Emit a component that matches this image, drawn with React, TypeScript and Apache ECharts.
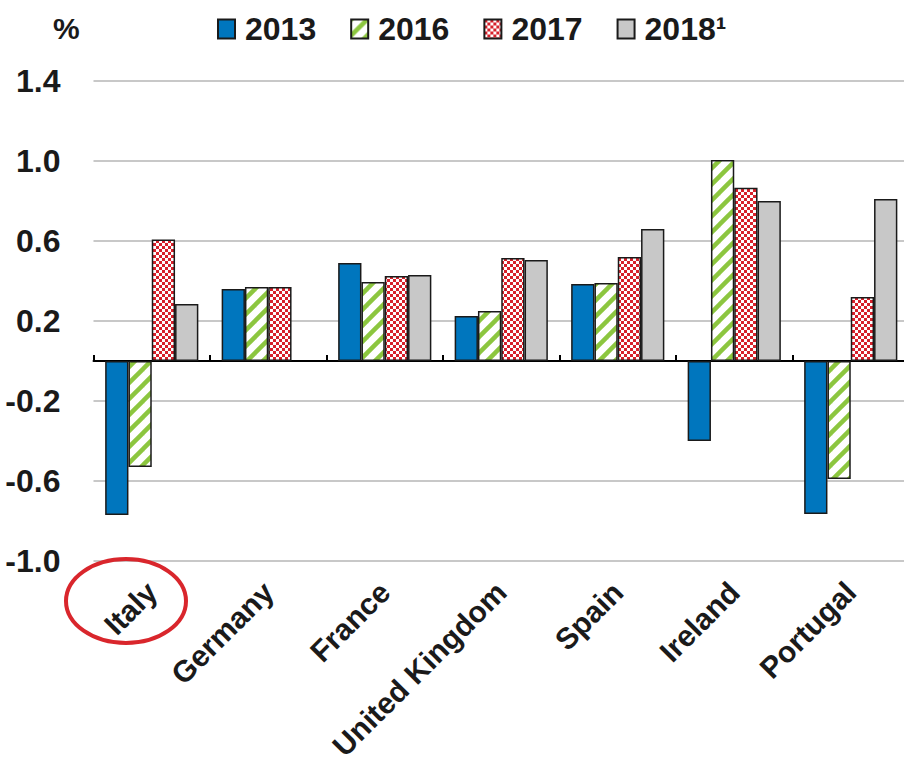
import React, { useEffect, useRef } from "react";
import * as echarts from "echarts";

const categories = ["Italy", "Germany", "France", "United Kingdom", "Spain", "Ireland", "Portugal"];
const seriesNames = ["2013", "2016", "2017", "2018¹"];
const values2013 = [-0.77, 0.36, 0.49, 0.225, 0.385, -0.40, -0.765];
const values2016 = [-0.53, 0.37, 0.395, 0.25, 0.39, 1.005, -0.59];
const values2017 = [0.607, 0.37, 0.425, 0.515, 0.52, 0.866, 0.32];
const values2018 = [0.285, null, 0.43, 0.505, 0.66, 0.80, 0.81];
const yTicks = { min: -1.0, max: 1.4, interval: 0.4 };

const FONT = '"Liberation Sans", Arial, sans-serif';

function hatchPattern(): HTMLCanvasElement {
  const c = document.createElement("canvas");
  c.width = 16;
  c.height = 16;
  const ctx = c.getContext("2d")!;
  ctx.fillStyle = "#ffffff";
  ctx.fillRect(0, 0, 16, 16);
  ctx.strokeStyle = "#8CC63F";
  ctx.lineWidth = 4.5;
  for (const k of [0, 16, 32]) {
    ctx.beginPath();
    ctx.moveTo(-6, k + 6);
    ctx.lineTo(k + 6, -6);
    ctx.stroke();
  }
  return c;
}

function checkerPattern(): HTMLCanvasElement {
  const c = document.createElement("canvas");
  c.width = 6;
  c.height = 6;
  const ctx = c.getContext("2d")!;
  ctx.fillStyle = "#ffffff";
  ctx.fillRect(0, 0, 6, 6);
  ctx.fillStyle = "#D7212B";
  ctx.fillRect(0, 0, 3, 3);
  ctx.fillRect(3, 3, 3, 3);
  return c;
}

export default function App() {
  const ref = useRef<HTMLDivElement>(null);
  useEffect(() => {
    document.body.style.margin = "0";
    if (!ref.current) return;
    const chart = echarts.init(ref.current, undefined, { renderer: "svg" });
    const border = { borderColor: "#1a1a1a", borderWidth: 1.5 };
    const fills: any[] = [
      "#0076BE",
      { image: hatchPattern(), repeat: "repeat" },
      { image: checkerPattern(), repeat: "repeat" },
      "#C8C8C8",
    ];
    const data = [values2013, values2016, values2017, values2018];
    chart.setOption({
      animation: false,
      legend: {
        left: 212,
        top: 8,
        icon: "rect",
        itemWidth: 17,
        itemHeight: 19,
        itemGap: 34,
        textStyle: {
          fontFamily: FONT,
          fontWeight: "bold",
          fontSize: 32,
          color: "#1a1a1a",
          padding: [0, 0, 0, 5],
        },
        data: seriesNames,
      },
      graphic: [
        {
          type: "text",
          left: 53,
          top: 13,
          style: { text: "%", font: `bold 30px ${FONT}`, fill: "#1a1a1a" },
        },
        {
          type: "ellipse",
          shape: { cx: 126, cy: 601, rx: 60, ry: 42 },
          style: { fill: "none", stroke: "#D9262C", lineWidth: 4 },
          z: 10,
        },
      ],
      grid: {
        left: 93.5,
        right: -5,
        top: 81,
        bottom: 201,
        containLabel: false,
        outerBoundsMode: "none",
      },
      xAxis: [
        {
          type: "category",
          data: categories,
          position: "bottom",
          axisLine: { show: false, onZero: false },
          axisTick: { show: false },
          axisLabel: {
            rotate: 45,
            margin: 26,
            fontFamily: FONT,
            fontWeight: "bold",
            fontSize: 30,
            color: "#1a1a1a",
            interval: 0,
          },
        },
        {
          type: "category",
          data: categories,
          position: "bottom",
          axisLine: { show: true, onZero: true, lineStyle: { color: "#000", width: 2 } },
          axisTick: { show: true, inside: true, length: 6, lineStyle: { color: "#000", width: 2 } },
          axisLabel: { show: false },
        },
      ],
      yAxis: {
        type: "value",
        min: yTicks.min,
        max: yTicks.max,
        interval: yTicks.interval,
        axisLine: { show: false },
        axisTick: { show: false },
        splitLine: { lineStyle: { color: "#C8C8C8", width: 2 } },
        axisLabel: {
          margin: 33,
          fontFamily: FONT,
          fontWeight: "bold",
          fontSize: 32,
          color: "#1a1a1a",
          formatter: (v: number) => v.toFixed(1),
        },
      },
      series: seriesNames.map((name, i) => ({
        name,
        type: "bar",
        xAxisIndex: 0,
        barGap: "0%",
        barCategoryGap: "20%",
        data: data[i],
        itemStyle: { color: fills[i], ...border },
      })),
    });
    return () => chart.dispose();
  }, []);
  return <div ref={ref} style={{ width: 904, height: 762 }} />;
}
